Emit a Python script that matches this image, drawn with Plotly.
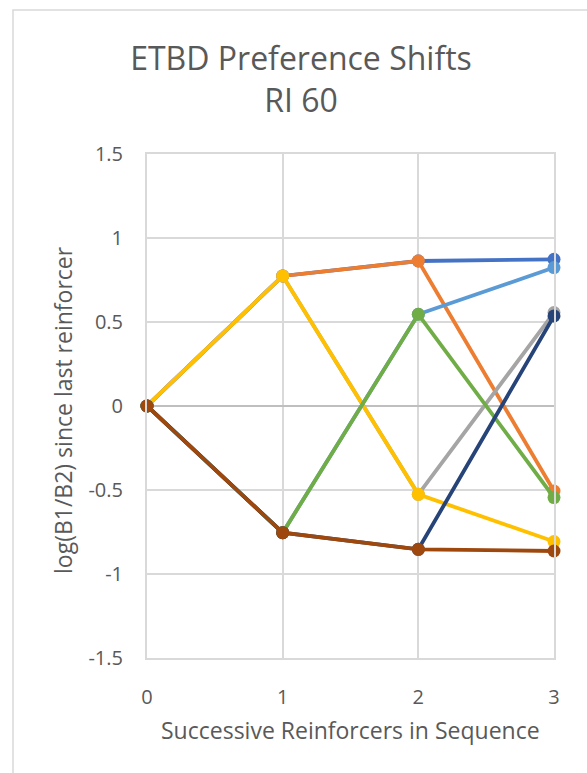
import plotly.graph_objects as go

# Successive reinforcer index
steps = [0, 1, 2, 3]

# log(B1/B2) after each reinforcer, one series per left/right sequence
series_names = ["LLL", "LLR", "LRL", "LRR", "RLL", "RLR", "RRL", "RRR"]
lll = [0, 0.774, 0.863, 0.873]
llr = [0, 0.774, 0.863, -0.506]
lrl = [0, 0.774, -0.526, 0.556]
lrr = [0, 0.774, -0.526, -0.807]
rll = [0, -0.754, 0.546, 0.824]
rlr = [0, -0.754, 0.546, -0.545]
rrl = [0, -0.754, -0.853, 0.536]
rrr = [0, -0.754, -0.853, -0.863]
series_values = [lll, llr, lrl, lrr, rll, rlr, rrl, rrr]

colors = ["#4472C4", "#ED7D31", "#A5A5A5", "#FFC000",
          "#5B9BD5", "#70AD47", "#264478", "#9E480E"]

y_ticks = [-1.5, -1, -0.5, 0, 0.5, 1, 1.5]
x_ticks = [0, 1, 2, 3]

W, H = 587, 773
L, R, T, B = 147, 33, 154, 115
plot_w = W - L - R
plot_h = H - T - B

def px_to_paper_x(px):
    return (px - L) / plot_w

def px_to_paper_y(py):
    return (H - B - py) / plot_h

text_color = "#595959"
grid_color = "#D9D9D9"
font_family = "Open Sans, Noto Sans, sans-serif"

fig = go.Figure()
for name, vals, col in zip(series_names, series_values, colors):
    fig.add_trace(go.Scatter(
        x=steps, y=vals, name=name, mode="lines+markers",
        line=dict(color=col, width=3.8),
        marker=dict(color=col, size=13),
        cliponaxis=False,
    ))

fig.update_layout(
    width=W, height=H,
    margin=dict(l=L, r=R, t=T, b=B, pad=0),
    paper_bgcolor="white", plot_bgcolor="white",
    showlegend=False,
    font=dict(family=font_family, color=text_color),
    title=dict(
        text="ETBD Preference Shifts<br>RI 60",
        x=301 / W, xanchor="center",
        y=1 - 70 / H, yanchor="middle",
        font=dict(size=32, color=text_color, family=font_family),
    ),
    xaxis=dict(
        range=[0, 3], tickvals=x_ticks, ticktext=[str(v) for v in x_ticks],
        showgrid=True, gridcolor=grid_color, gridwidth=2,
        zeroline=False, showline=True, linecolor=grid_color, linewidth=2,
        mirror=True, ticks="", ticklabelstandoff=20,
        tickfont=dict(size=20, color=text_color),
    ),
    yaxis=dict(
        range=[-1.5, 1.5], tickvals=y_ticks,
        ticktext=[f"{v:g}" for v in y_ticks],
        showgrid=True, gridcolor=grid_color, gridwidth=2,
        zeroline=True, zerolinecolor="#BFBFBF", zerolinewidth=2,
        showline=True, linecolor=grid_color, linewidth=2,
        mirror=True, ticks="", ticklabelstandoff=18,
        tickfont=dict(size=20, color=text_color),
    ),
    annotations=[
        dict(text="log(B1/B2) since last reinforcer",
             x=px_to_paper_x(63), y=px_to_paper_y(410),
             xref="paper", yref="paper", xanchor="center", yanchor="middle",
             textangle=-90, showarrow=False,
             font=dict(size=23, color=text_color, family=font_family)),
        dict(text="Successive Reinforcers in Sequence",
             x=px_to_paper_x(350), y=px_to_paper_y(730),
             xref="paper", yref="paper", xanchor="center", yanchor="middle",
             showarrow=False,
             font=dict(size=23, color=text_color, family=font_family)),
    ],
    shapes=[
        # chart frame
        dict(type="rect", xref="paper", yref="paper", layer="below",
             x0=px_to_paper_x(13), x1=px_to_paper_x(W + 20),
             y0=px_to_paper_y(H + 20), y1=px_to_paper_y(10),
             line=dict(color=grid_color, width=1.5), fillcolor="rgba(0,0,0,0)"),
    ],
)

fig.write_html("out.html")
